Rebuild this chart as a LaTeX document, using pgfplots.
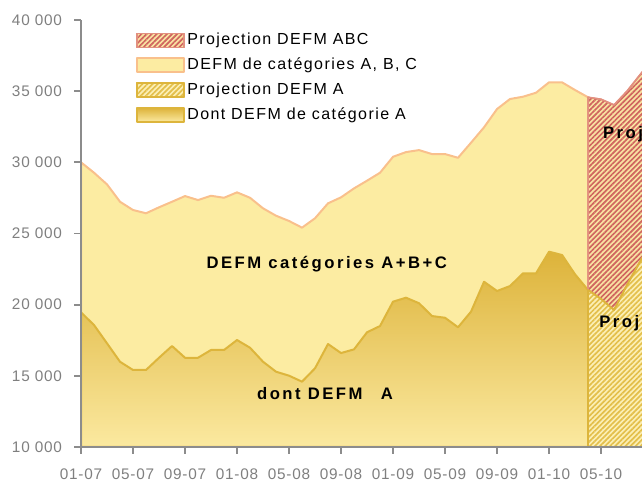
\documentclass[border=0pt]{standalone}
\usepackage{fontspec}
\setmainfont{Liberation Sans}[LetterSpace=5]
\newfontfamily\legfont{Liberation Sans}[LetterSpace=9]
\newfontfamily\lblfont{Liberation Sans}[LetterSpace=15]
\usepackage{pgfplots}
\pgfplotsset{compat=1.18}
\usetikzlibrary{patterns.meta}

\definecolor{abcfill}{HTML}{FCECA2}
\definecolor{abcline}{HTML}{F9C08C}
\definecolor{agoldtop}{HTML}{DDB33A}
\definecolor{agoldbot}{HTML}{FBE9A0}
\definecolor{aline}{HTML}{DDB53C}
\definecolor{hatchR}{HTML}{D0655F}
\definecolor{hatchbgR}{HTML}{F9E3A2}
\definecolor{projRline}{HTML}{E2907F}
\definecolor{hatchY}{HTML}{E3BF4A}
\definecolor{hatchbgY}{HTML}{FCEFB5}
\definecolor{axisgray}{HTML}{8C8C8C}
\definecolor{labelgray}{HTML}{7F7F7F}

\tikzset{
  projabc/.style={draw=projRline, line width=1.2pt, fill=hatchbgR,
    postaction={pattern={Lines[angle=45,distance=2.7pt,line width=1.25pt]}, pattern color=hatchR}},
  proja/.style={draw=aline, line width=1.2pt, fill=hatchbgY,
    postaction={pattern={Lines[angle=45,distance=2.7pt,line width=1.25pt]}, pattern color=hatchY}},
  abcarea/.style={draw=abcline, line width=1.5pt, fill=abcfill},
  aarea/.style={draw=aline, line width=1.5pt, top color=agoldtop, bottom color=agoldbot},
}

\begin{document}
\begin{tikzpicture}
\begin{axis}[
  name=ax,
  scale only axis, width=420.75pt, height=320.25pt,
  xmin=0, xmax=43.15, ymin=10000, ymax=40000,
  axis on top, no markers,
  axis x line*=bottom, axis y line*=left,
  axis line style={draw=axisgray, line width=1.3pt},
  tick align=outside, major tick length=5.25pt,
  tick style={draw=axisgray, line width=1.3pt},
  scaled y ticks=false,
  xtick={0,4,...,40},
  xticklabels={01-07,05-07,09-07,01-08,05-08,09-08,01-09,05-09,09-09,01-10,05-10},
  ytick={10000,15000,...,40000},
  yticklabels={10 000,15 000,20 000,25 000,30 000,35 000,40 000},
  ticklabel style={font=\fontsize{11.5}{13}\selectfont, text=labelgray},
  xticklabel style={yshift=-7.5pt},
  yticklabel style={xshift=-5.5pt},
  line join=round,
  legend style={draw=none, fill=none, at={(axis cs:4.23,39110)}, anchor=north west,
    inner sep=0pt, outer sep=0pt, row sep=6.9pt, column sep=2pt,
    font=\legfont\fontsize{12}{14}\selectfont,
    nodes={inner sep=0pt, text height=9pt, text depth=2.5pt}},
  legend cell align=left,
  legend image code/.code={\draw[#1] (0pt,-5.25pt) rectangle (35.25pt,5.25pt);},
]
% DEFM categories A, B, C (actual)
\addplot[abcarea, forget plot] coordinates {
(0,10000) (0,30000) (1,29270) (2,28450) (3,27230) (4,26650) (5,26420) (6,26840)
(7,27230) (8,27630) (9,27350) (10,27650) (11,27510) (12,27890) (13,27510)
(14,26770) (15,26250) (16,25880) (17,25410) (18,26070) (19,27120) (20,27540)
(21,28170) (22,28710) (23,29270) (24,30390) (25,30720) (26,30860) (27,30580)
(28,30580) (29,30320) (30,31380) (31,32460) (32,33745) (33,34450) (34,34610)
(35,34890) (36,35620) (37,35620) (38,35080) (39,34570) (39,10000)} -- cycle;
% dont DEFM A (actual)
\addplot[aarea, forget plot] coordinates {
(0,10000) (0,19460) (1,18570) (2,17285) (3,15990) (4,15410) (5,15410) (6,16270)
(7,17095) (8,16270) (9,16270) (10,16815) (11,16815) (12,17515) (13,16975)
(14,15990) (15,15290) (16,15010) (17,14590) (18,15530) (19,17235) (20,16600)
(21,16860) (22,18060) (23,18500) (24,20210) (25,20490) (26,20100) (27,19200)
(28,19080) (29,18410) (30,19510) (31,21610) (32,20960) (33,21310) (34,22200)
(35,22200) (36,23720) (37,23490) (38,22130) (39,21030) (39,10000)} -- cycle;
% projection ABC
\addplot[projabc, forget plot] coordinates {
(39,21030) (39,34570) (40,34430) (41,34030) (42,35000) (43,36150) (44,37300)
(44,24660) (43,23020) (42,21380) (41,19620) (40,20400)} -- cycle;
% projection A
\addplot[proja, forget plot] coordinates {
(39,10000) (39,21030) (40,20400) (41,19620) (42,21380) (43,23020) (44,24660)
(44,10000)} -- cycle;

\addlegendimage{projabc}
\addlegendentry{Projection DEFM ABC}
\addlegendimage{abcarea, line width=1.2pt}
\addlegendentry{DEFM de catégories A, B, C}
\addlegendimage{proja}
\addlegendentry{Projection DEFM A}
\addlegendimage{aarea, line width=1.2pt}
\addlegendentry{Dont DEFM de catégorie A}

\node[anchor=base, font=\lblfont\bfseries\fontsize{12.5}{14}\selectfont]
  at (axis cs:18.9,22506) {DEFM catégories A+B+C};
\node[anchor=base, font=\lblfont\bfseries\fontsize{12.5}{14}\selectfont]
  at (axis cs:18.77,13302) {dont DEFM\hspace{1.1em}A};
\node[anchor=base west, inner sep=0pt, font=\lblfont\bfseries\fontsize{12.5}{14}\selectfont]
  at (axis cs:40.13,31689) {Proj.};
\node[anchor=base west, inner sep=0pt, font=\lblfont\bfseries\fontsize{12.5}{14}\selectfont]
  at (axis cs:39.85,18410) {Proj.};
\end{axis}
\pgfresetboundingbox
\path[use as bounding box] ([xshift=-60.75pt,yshift=-25.5pt]ax.south west)
  rectangle ([yshift=15pt]ax.north east);
\end{tikzpicture}
\end{document}
